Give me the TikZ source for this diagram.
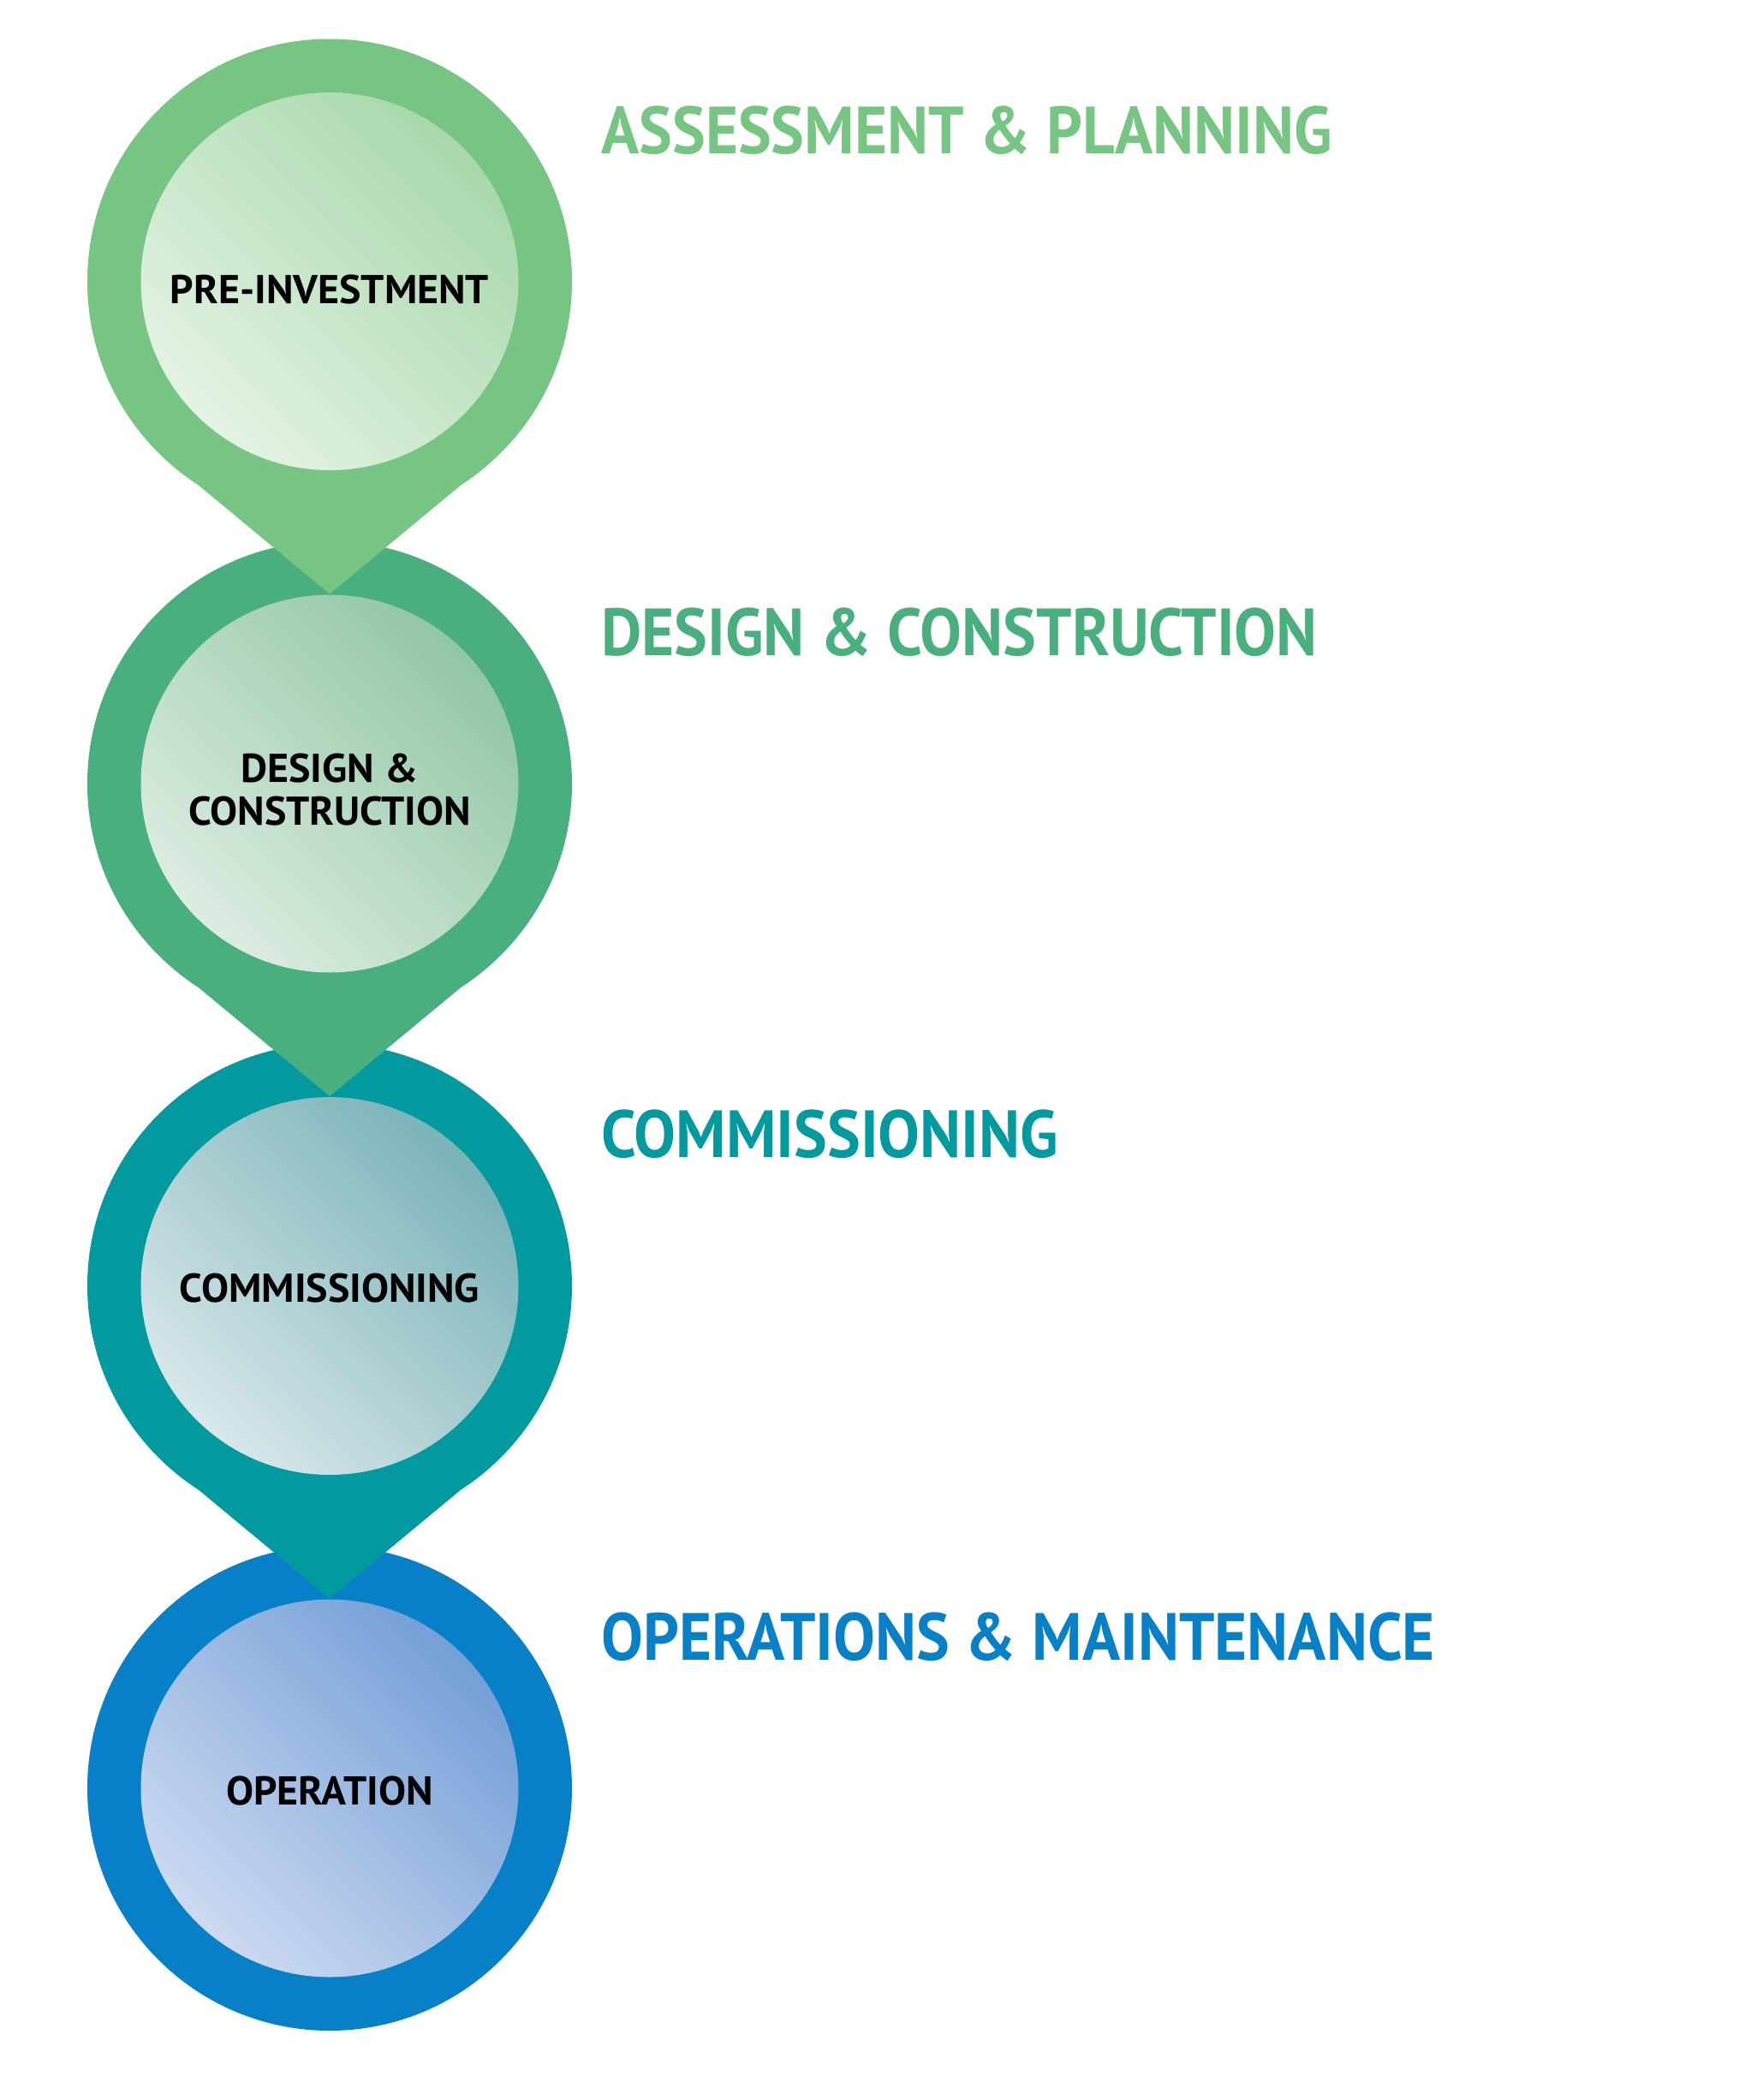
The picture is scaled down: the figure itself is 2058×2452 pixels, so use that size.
\documentclass[tikz,border=0pt]{standalone}
\usepackage{fontspec}
\setmainfont{PT Sans}
\definecolor{oA}{HTML}{77C583}
\definecolor{oB}{HTML}{4AAF7F}
\definecolor{oC}{HTML}{029A9E}
\definecolor{oD}{HTML}{0780C7}
\definecolor{lA}{HTML}{E4F3E4}
\definecolor{dA}{HTML}{A8D8AC}
\definecolor{lB}{HTML}{DCEDE1}
\definecolor{dB}{HTML}{92C6A5}
\definecolor{lC}{HTML}{D8E7EA}
\definecolor{dC}{HTML}{7AB3B8}
\definecolor{lD}{HTML}{CCDAF1}
\definecolor{dD}{HTML}{749FD6}
\tikzset{
  innerlabel/.style={font=\bfseries\fontsize{23.5}{25}\selectfont, align=center, text=black, inner sep=0pt},
  heading/.style={anchor=west, font=\bfseries\fontsize{39}{44}\selectfont, inner sep=0pt},
}
\newcommand\hsq[1]{\scalebox{0.937}[1]{#1}}
\newcommand\isq[1]{\scalebox{1.02}[1]{#1}}
% #1 centre y, #2 ring colour, #3 light, #4 dark, #5 name, #6 tail (1 = yes)
\newcommand\stagedrop[6]{%
  \coordinate (#5c) at (385,#1);
  \fill[#2] (#5c) circle (283);
  \ifnum#6=1
    \coordinate (#5l) at (233,#1+239);
    \coordinate (#5r) at (537,#1+239);
    \coordinate (#5t) at (385,#1+365);
    \fill[#2] (#5c) -- (#5l) -- (#5t) -- (#5r) -- cycle;
  \fi
  \shade[left color=#4, right color=#3, shading angle=-45] (#5c) circle (220.5);
}
\begin{document}
\begin{tikzpicture}[x=0.5pt,y=-0.5pt]
\useasboundingbox (0,0) rectangle (2058,2452);
\stagedrop{2088}{oD}{lD}{dD}{s4}{0}
\stagedrop{1501.5}{oC}{lC}{dC}{s3}{1}
\stagedrop{915}{oB}{lB}{dB}{s2}{1}
\stagedrop{328.5}{oA}{lA}{dA}{s1}{1}
\node[innerlabel] (t1) at (385,338) {\isq{PRE-INVESTMENT}};
\node[innerlabel] (t2) at (385,922) {\isq{DESIGN \&}\\\isq{CONSTRUCTION}};
\node[innerlabel] (t3) at (385,1504) {\isq{COMMISSIONING}};
\node[innerlabel] (t4) at (385,2091) {\isq{OPERATION}};
\node[heading, text=oA] (h1) at (702,152) {\hsq{ASSESSMENT \& PLANNING}};
\node[heading, text=oB] (h2) at (702,738) {\hsq{DESIGN \& CONSTRUCTION}};
\node[heading, text=oC] (h3) at (702,1324.5) {\hsq{COMMISSIONING}};
\node[heading, text=oD] (h4) at (702,1911) {\hsq{OPERATIONS \& MAINTENANCE}};
\end{tikzpicture}
\end{document}
